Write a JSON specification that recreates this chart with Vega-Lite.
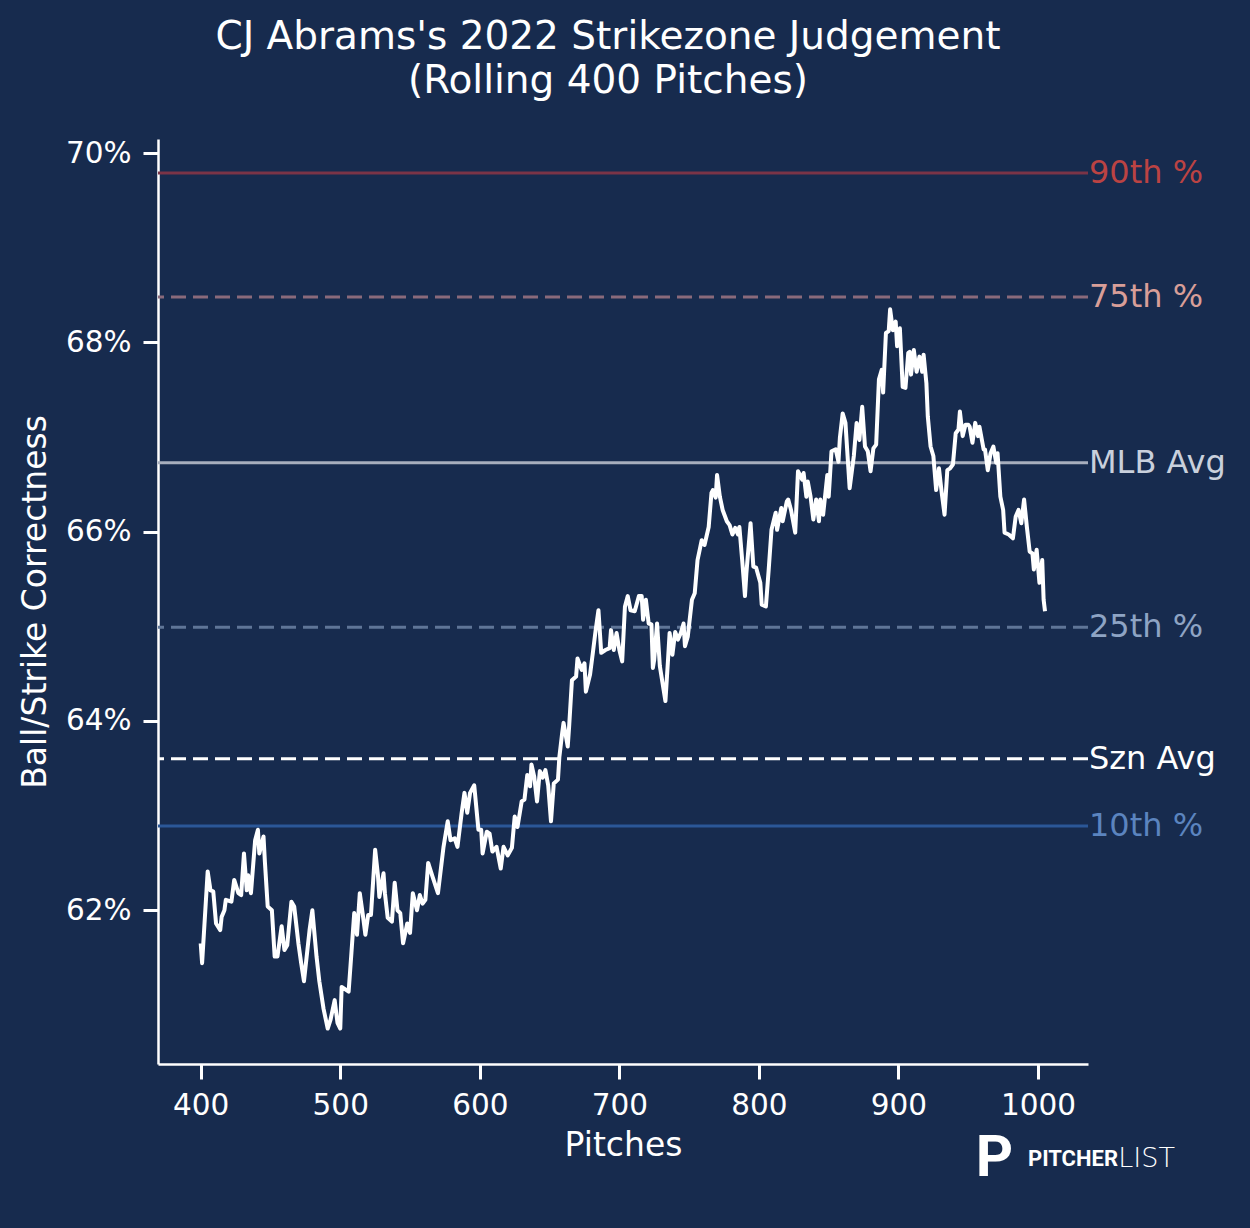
{
  "$schema": "https://vega.github.io/schema/vega-lite/v6.json",
  "autosize": {"type": "none"},
  "padding": {"left": 158, "top": 139, "right": 162, "bottom": 164},
  "width": 930,
  "height": 925,
  "background": "#172b4e",
  "config": {
    "view": {"stroke": null},
    "font": "DejaVu Sans",
    "axis": {
      "domainColor": "#ffffff", "domainWidth": 2.5,
      "tickColor": "#ffffff", "tickWidth": 3, "tickSize": 15,
      "labelColor": "#ffffff", "labelFont": "DejaVu Sans", "labelFontSize": 29.5,
      "titleColor": "#ffffff", "titleFont": "DejaVu Sans", "titleFontSize": 33, "titleFontWeight": "normal",
      "grid": false
    }
  },
  "title": {
    "text": ["CJ Abrams's 2022 Strikezone Judgement", "(Rolling 400 Pitches)"],
    "font": "DejaVu Sans", "fontSize": 39, "fontWeight": "normal", "color": "#ffffff",
    "lineHeight": 44, "anchor": "middle", "dx": -15, "offset": 37
  },
  "datasets": {
    "rolling": [
      {"pitch":400,"pct":61.65},{"pitch":401,"pct":61.44},{"pitch":405,"pct":62.41},{"pitch":407,"pct":62.21},{"pitch":409,"pct":62.2},{"pitch":411,"pct":61.86},{"pitch":414,"pct":61.79},{"pitch":415,"pct":61.93},{"pitch":417,"pct":62.0},{"pitch":418,"pct":62.11},{"pitch":422,"pct":62.09},{"pitch":424,"pct":62.32},{"pitch":427,"pct":62.18},{"pitch":429,"pct":62.16},{"pitch":431,"pct":62.6},{"pitch":433,"pct":62.21},{"pitch":434,"pct":62.37},{"pitch":436,"pct":62.18},{"pitch":439,"pct":62.74},{"pitch":441,"pct":62.85},{"pitch":442,"pct":62.6},{"pitch":445,"pct":62.78},{"pitch":446,"pct":62.51},{"pitch":448,"pct":62.04},{"pitch":451,"pct":62.0},{"pitch":453,"pct":61.51},{"pitch":455,"pct":61.51},{"pitch":458,"pct":61.83},{"pitch":460,"pct":61.58},{"pitch":462,"pct":61.63},{"pitch":465,"pct":62.09},{"pitch":467,"pct":62.04},{"pitch":470,"pct":61.65},{"pitch":472,"pct":61.44},{"pitch":474,"pct":61.25},{"pitch":478,"pct":61.79},{"pitch":480,"pct":62.0},{"pitch":483,"pct":61.51},{"pitch":485,"pct":61.25},{"pitch":488,"pct":60.96},{"pitch":491,"pct":60.75},{"pitch":493,"pct":60.84},{"pitch":496,"pct":61.05},{"pitch":498,"pct":60.81},{"pitch":500,"pct":60.75},{"pitch":501,"pct":61.19},{"pitch":506,"pct":61.14},{"pitch":508,"pct":61.55},{"pitch":510,"pct":61.97},{"pitch":512,"pct":61.74},{"pitch":514,"pct":62.18},{"pitch":516,"pct":61.97},{"pitch":518,"pct":61.74},{"pitch":520,"pct":61.95},{"pitch":522,"pct":61.95},{"pitch":525,"pct":62.64},{"pitch":527,"pct":62.37},{"pitch":528,"pct":62.14},{"pitch":531,"pct":62.39},{"pitch":532,"pct":62.18},{"pitch":534,"pct":61.92},{"pitch":537,"pct":61.88},{"pitch":539,"pct":62.29},{"pitch":541,"pct":62.0},{"pitch":543,"pct":61.97},{"pitch":545,"pct":61.65},{"pitch":548,"pct":61.86},{"pitch":550,"pct":61.76},{"pitch":552,"pct":62.18},{"pitch":555,"pct":62.0},{"pitch":557,"pct":62.16},{"pitch":559,"pct":62.07},{"pitch":561,"pct":62.11},{"pitch":563,"pct":62.5},{"pitch":566,"pct":62.36},{"pitch":570,"pct":62.18},{"pitch":574,"pct":62.67},{"pitch":577,"pct":62.94},{"pitch":579,"pct":62.74},{"pitch":582,"pct":62.76},{"pitch":584,"pct":62.67},{"pitch":587,"pct":63.03},{"pitch":589,"pct":63.24},{"pitch":591,"pct":63.03},{"pitch":593,"pct":63.24},{"pitch":596,"pct":63.32},{"pitch":599,"pct":62.85},{"pitch":601,"pct":62.85},{"pitch":602,"pct":62.6},{"pitch":605,"pct":62.83},{"pitch":607,"pct":62.81},{"pitch":609,"pct":62.62},{"pitch":612,"pct":62.67},{"pitch":615,"pct":62.44},{"pitch":617,"pct":62.67},{"pitch":620,"pct":62.58},{"pitch":623,"pct":62.66},{"pitch":625,"pct":62.99},{"pitch":627,"pct":62.88},{"pitch":630,"pct":63.15},{"pitch":632,"pct":63.17},{"pitch":634,"pct":63.43},{"pitch":636,"pct":63.31},{"pitch":637,"pct":63.54},{"pitch":639,"pct":63.41},{"pitch":641,"pct":63.15},{"pitch":643,"pct":63.47},{"pitch":645,"pct":63.4},{"pitch":647,"pct":63.48},{"pitch":649,"pct":63.32},{"pitch":651,"pct":62.94},{"pitch":653,"pct":63.34},{"pitch":656,"pct":63.38},{"pitch":657,"pct":63.62},{"pitch":659,"pct":63.87},{"pitch":660,"pct":63.98},{"pitch":663,"pct":63.73},{"pitch":664,"pct":63.94},{"pitch":666,"pct":64.43},{"pitch":669,"pct":64.47},{"pitch":670,"pct":64.66},{"pitch":673,"pct":64.54},{"pitch":675,"pct":64.61},{"pitch":676,"pct":64.31},{"pitch":679,"pct":64.49},{"pitch":681,"pct":64.72},{"pitch":683,"pct":64.96},{"pitch":685,"pct":65.17},{"pitch":687,"pct":64.72},{"pitch":690,"pct":64.75},{"pitch":693,"pct":64.77},{"pitch":694,"pct":64.96},{"pitch":696,"pct":64.75},{"pitch":698,"pct":64.93},{"pitch":700,"pct":64.75},{"pitch":702,"pct":64.63},{"pitch":704,"pct":65.21},{"pitch":706,"pct":65.32},{"pitch":708,"pct":65.17},{"pitch":711,"pct":65.16},{"pitch":714,"pct":65.32},{"pitch":716,"pct":65.32},{"pitch":717,"pct":65.07},{"pitch":719,"pct":65.28},{"pitch":721,"pct":65.03},{"pitch":723,"pct":65.02},{"pitch":724,"pct":64.56},{"pitch":725,"pct":64.65},{"pitch":727,"pct":65.03},{"pitch":729,"pct":64.58},{"pitch":733,"pct":64.21},{"pitch":735,"pct":64.68},{"pitch":736,"pct":64.93},{"pitch":738,"pct":64.7},{"pitch":740,"pct":64.94},{"pitch":742,"pct":64.86},{"pitch":744,"pct":64.93},{"pitch":746,"pct":65.03},{"pitch":747,"pct":64.79},{"pitch":749,"pct":64.89},{"pitch":752,"pct":65.28},{"pitch":754,"pct":65.35},{"pitch":756,"pct":65.7},{"pitch":758,"pct":65.84},{"pitch":759,"pct":65.91},{"pitch":761,"pct":65.86},{"pitch":764,"pct":66.05},{"pitch":766,"pct":66.41},{"pitch":767,"pct":66.44},{"pitch":769,"pct":66.36},{"pitch":770,"pct":66.6},{"pitch":772,"pct":66.37},{"pitch":774,"pct":66.23},{"pitch":777,"pct":66.11},{"pitch":779,"pct":66.07},{"pitch":781,"pct":65.97},{"pitch":783,"pct":66.04},{"pitch":785,"pct":65.97},{"pitch":786,"pct":66.05},{"pitch":788,"pct":65.7},{"pitch":790,"pct":65.32},{"pitch":791,"pct":65.56},{"pitch":794,"pct":66.09},{"pitch":796,"pct":65.63},{"pitch":798,"pct":65.62},{"pitch":801,"pct":65.46},{"pitch":802,"pct":65.23},{"pitch":805,"pct":65.21},{"pitch":807,"pct":65.6},{"pitch":809,"pct":66.02},{"pitch":812,"pct":66.2},{"pitch":813,"pct":66.02},{"pitch":816,"pct":66.25},{"pitch":817,"pct":66.11},{"pitch":820,"pct":66.32},{"pitch":821,"pct":66.34},{"pitch":823,"pct":66.23},{"pitch":826,"pct":65.99},{"pitch":828,"pct":66.64},{"pitch":831,"pct":66.55},{"pitch":832,"pct":66.62},{"pitch":834,"pct":66.37},{"pitch":835,"pct":66.53},{"pitch":837,"pct":66.37},{"pitch":839,"pct":66.13},{"pitch":841,"pct":66.34},{"pitch":843,"pct":66.11},{"pitch":844,"pct":66.34},{"pitch":846,"pct":66.18},{"pitch":849,"pct":66.6},{"pitch":850,"pct":66.37},{"pitch":852,"pct":66.85},{"pitch":855,"pct":66.87},{"pitch":857,"pct":66.74},{"pitch":858,"pct":66.99},{"pitch":860,"pct":67.25},{"pitch":862,"pct":67.15},{"pitch":864,"pct":66.69},{"pitch":865,"pct":66.46},{"pitch":868,"pct":66.8},{"pitch":870,"pct":67.15},{"pitch":872,"pct":66.97},{"pitch":874,"pct":67.32},{"pitch":876,"pct":66.9},{"pitch":878,"pct":66.85},{"pitch":880,"pct":66.64},{"pitch":882,"pct":66.88},{"pitch":884,"pct":66.92},{"pitch":886,"pct":67.61},{"pitch":888,"pct":67.71},{"pitch":889,"pct":67.47},{"pitch":891,"pct":68.1},{"pitch":893,"pct":68.12},{"pitch":894,"pct":68.35},{"pitch":896,"pct":68.13},{"pitch":898,"pct":68.22},{"pitch":899,"pct":67.96},{"pitch":901,"pct":68.15},{"pitch":903,"pct":67.53},{"pitch":905,"pct":67.52},{"pitch":907,"pct":67.89},{"pitch":908,"pct":67.9},{"pitch":909,"pct":67.66},{"pitch":911,"pct":67.92},{"pitch":913,"pct":67.69},{"pitch":915,"pct":67.85},{"pitch":917,"pct":67.69},{"pitch":918,"pct":67.87},{"pitch":920,"pct":67.57},{"pitch":921,"pct":67.22},{"pitch":923,"pct":66.9},{"pitch":925,"pct":66.8},{"pitch":927,"pct":66.44},{"pitch":929,"pct":66.67},{"pitch":931,"pct":66.41},{"pitch":933,"pct":66.18},{"pitch":935,"pct":66.65},{"pitch":937,"pct":66.67},{"pitch":939,"pct":66.71},{"pitch":941,"pct":67.04},{"pitch":943,"pct":67.08},{"pitch":944,"pct":67.27},{"pitch":946,"pct":67.01},{"pitch":948,"pct":67.13},{"pitch":950,"pct":67.13},{"pitch":951,"pct":67.11},{"pitch":953,"pct":66.94},{"pitch":955,"pct":67.15},{"pitch":957,"pct":67.01},{"pitch":958,"pct":67.11},{"pitch":961,"pct":66.87},{"pitch":962,"pct":66.87},{"pitch":964,"pct":66.65},{"pitch":966,"pct":66.83},{"pitch":968,"pct":66.9},{"pitch":970,"pct":66.73},{"pitch":971,"pct":66.83},{"pitch":973,"pct":66.37},{"pitch":975,"pct":66.23},{"pitch":976,"pct":65.99},{"pitch":979,"pct":65.97},{"pitch":982,"pct":65.93},{"pitch":984,"pct":66.16},{"pitch":986,"pct":66.23},{"pitch":988,"pct":66.09},{"pitch":990,"pct":66.34},{"pitch":992,"pct":66.05},{"pitch":994,"pct":65.79},{"pitch":996,"pct":65.77},{"pitch":997,"pct":65.6},{"pitch":999,"pct":65.81},{"pitch":1001,"pct":65.46},{"pitch":1003,"pct":65.7},{"pitch":1004,"pct":65.28},{"pitch":1005,"pct":65.16}
    ],
    "refs": [
      {"label": "90th %", "value": 69.79},
      {"label": "75th %", "value": 68.48},
      {"label": "MLB Avg", "value": 66.73},
      {"label": "25th %", "value": 64.99},
      {"label": "Szn Avg", "value": 63.6},
      {"label": "10th %", "value": 62.89}
    ]
  },
  "layer": [
    {
      "data": {"name": "refs"},
      "mark": {"type": "rule", "strokeWidth": 3},
      "encoding": {
        "y": {"field": "value", "type": "quantitative", "title": "Ball/Strike Correctness"},
        "stroke": {"field": "label", "type": "nominal", "legend": null,
          "scale": {"domain": ["90th %", "75th %", "MLB Avg", "25th %", "Szn Avg", "10th %"],
                    "range": ["#7b3447", "#8a6a7b", "#a7aebd", "#5f7597", "#ffffff", "#2b5797"]}},
        "strokeDash": {"field": "label", "type": "nominal", "legend": null,
          "scale": {"domain": ["90th %", "75th %", "MLB Avg", "25th %", "Szn Avg", "10th %"],
                    "range": [[1, 0], [15, 7], [1, 0], [15, 7], [15, 7], [1, 0]]}}
      }
    },
    {
      "data": {"name": "rolling"},
      "mark": {"type": "line", "color": "#ffffff", "strokeWidth": 4, "strokeJoin": "round"},
      "encoding": {
        "x": {"field": "pitch", "type": "quantitative", "title": "Pitches",
          "scale": {"domain": [369.4, 1035.8], "nice": false, "zero": false},
          "axis": {"values": [400, 500, 600, 700, 800, 900, 1000], "labelPadding": 12, "titlePadding": 10, "format": "d"}},
        "y": {"field": "pct", "type": "quantitative", "title": "Ball/Strike Correctness",
          "scale": {"domain": [60.375, 70.15], "nice": false, "zero": false},
          "axis": {"values": [62, 64, 66, 68, 70], "labelExpr": "datum.value + '%'", "labelPadding": 12, "titlePadding": 13}}
      }
    },
    {
      "data": {"name": "refs"},
      "mark": {"type": "text", "align": "left", "baseline": "middle", "dx": 1, "fontSize": 32, "font": "DejaVu Sans"},
      "encoding": {
        "x": {"datum": 1035.8, "type": "quantitative", "title": "Pitches"},
        "y": {"field": "value", "type": "quantitative", "title": "Ball/Strike Correctness"},
        "text": {"field": "label"},
        "fill": {"field": "label", "type": "nominal", "legend": null,
          "scale": {"domain": ["90th %", "75th %", "MLB Avg", "25th %", "Szn Avg", "10th %"],
                    "range": ["#bb4343", "#d89e98", "#c9d0dc", "#8ea4c4", "#ffffff", "#5b84bf"]}}
      }
    },
    {
      "data": {"values": [{}]},
      "mark": {"type": "text", "text": "P", "font": "Roboto", "fontWeight": "bold", "fontSize": 58, "align": "center", "baseline": "middle", "color": "#ffffff"},
      "encoding": {
        "x": {"datum": 968.8, "type": "quantitative", "title": "Pitches"},
        "y": {"datum": 59.37, "type": "quantitative", "title": "Ball/Strike Correctness"}
      }
    },
    {
      "data": {"values": [{}]},
      "mark": {"type": "text", "text": "PITCHER", "font": "Roboto", "fontWeight": "bold", "fontSize": 22, "align": "left", "baseline": "middle", "color": "#ffffff"},
      "encoding": {
        "x": {"datum": 992.8, "type": "quantitative", "title": "Pitches"},
        "y": {"datum": 59.37, "type": "quantitative", "title": "Ball/Strike Correctness"}
      }
    },
    {
      "data": {"values": [{}]},
      "mark": {"type": "text", "text": "LIST", "font": "DejaVu Sans", "fontWeight": 200, "fontSize": 27, "align": "left", "baseline": "middle", "color": "#ffffff"},
      "encoding": {
        "x": {"datum": 1057.5, "type": "quantitative", "title": "Pitches"},
        "y": {"datum": 59.37, "type": "quantitative", "title": "Ball/Strike Correctness"}
      }
    }
  ],
  "resolve": {"scale": {"stroke": "independent", "fill": "independent"}}
}
